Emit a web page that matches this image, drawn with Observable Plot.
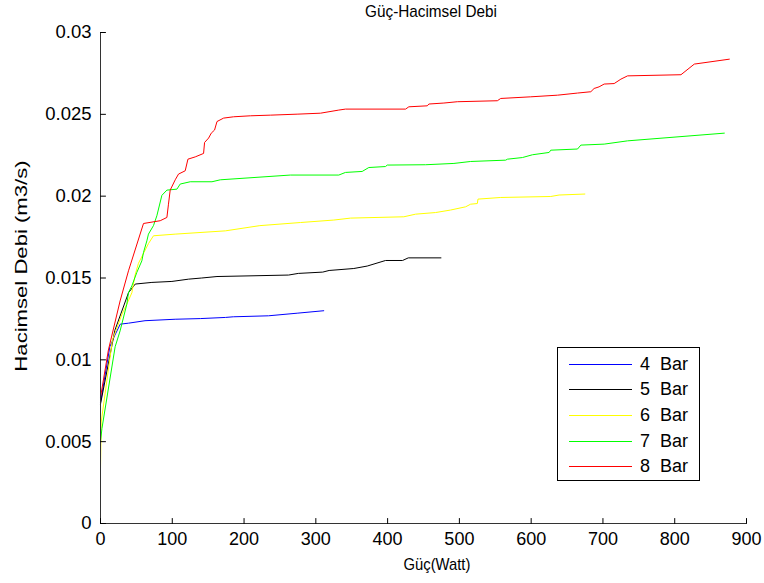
<!DOCTYPE html>
<html>
<head>
<meta charset="utf-8">
<script src="https://cdn.jsdelivr.net/npm/d3@7"></script>
<script src="https://cdn.jsdelivr.net/npm/@observablehq/plot@0.6"></script>
<style>
  html, body { margin: 0; padding: 0; background: #fff; }
  #wrap { position: relative; width: 764px; height: 583px; font-family: "Liberation Sans", Arial, sans-serif; color: #000; }
  #chart { position: absolute; left: 0; top: 0; }
  #title { position: absolute; left: 231px; top: 2px; width: 400px; text-align: center; font-size: 17px; line-height: 20px; transform: scaleX(0.9); }
  #xlabel { position: absolute; left: 337px; top: 555px; width: 200px; text-align: center; font-size: 17px; line-height: 20px; transform: scaleX(0.87); }
  #ylabel { position: absolute; left: -128px; top: 254px; width: 300px; height: 24px; line-height: 24px; text-align: center; font-size: 17px; transform: rotate(-90deg) scaleX(1.3); transform-origin: 150px 12px; white-space: nowrap; }
  #legend { position: absolute; left: 557px; top: 347px; width: 143px; height: 134px; border: 1.5px solid #000; background: #fff; box-sizing: border-box; }
  .row { position: absolute; left: 0; height: 20px; display: flex; align-items: center; }
  .sw { width: 63px; height: 0; border-top: 1.3px solid; margin-left: 11px; margin-right: 8px; }
  .lt { font-size: 18px; white-space: pre; }
</style>
</head>
<body>
<div id="wrap">
  <div id="chart"></div>
  <div id="title">Güç-Hacimsel Debi</div>
  <div id="xlabel">Güç(Watt)</div>
  <div id="ylabel">Hacimsel Debi (m3/s)</div>
  <div id="legend"></div>
</div>
<script>
const seriesNames = ["4  Bar", "5  Bar", "6  Bar", "7  Bar", "8  Bar"];
const seriesColors = ["#0000ff", "#000000", "#ffff00", "#00ff00", "#ff0000"];
const xTicks = [0, 100, 200, 300, 400, 500, 600, 700, 800, 900];
const yTicks = [0, 0.005, 0.01, 0.015, 0.02, 0.025, 0.03];

const bar4x = [0, 13, 20, 27.5, 39, 62, 104, 139, 174, 185, 234, 274, 311];
const bar4y = [0.0074, 0.0108, 0.0115, 0.01218, 0.01224, 0.01239, 0.01248, 0.01252, 0.01259, 0.01263, 0.01269, 0.01285, 0.0130];

const bar5x = [0, 20, 39, 48.4, 71.6, 99.5, 122.7, 141, 162.3, 262, 275.6, 309.6, 318.5, 352.9, 371.6, 397.1, 420.8, 428.8, 474.3];
const bar5y = [0.0073, 0.0118, 0.0141, 0.01463, 0.01473, 0.01479, 0.01493, 0.0150, 0.01509, 0.01518, 0.01528, 0.01536, 0.01546, 0.01558, 0.01573, 0.01607, 0.01607, 0.01623, 0.01623];

const bar6x = [0, 1, 16.6, 30, 36.7, 43.7, 48.3, 52.9, 66.8, 73.8, 104, 173.9, 222, 278.6, 325, 348.3, 422.6, 439, 466.9, 487.5, 508.7, 515.7, 525, 525.9, 557.6, 627.3, 638.9, 674.8];
const bar6y = [0.0033, 0.0062, 0.0112, 0.0128, 0.0134, 0.0141, 0.0152, 0.0159, 0.0171, 0.01758, 0.01768, 0.01788, 0.0182, 0.01839, 0.01854, 0.01866, 0.01874, 0.0189, 0.019, 0.01915, 0.01935, 0.01951, 0.01955, 0.01982, 0.01992, 0.01998, 0.02007, 0.02013];

const bar7x = [0, 2, 20.4, 27.3, 36.7, 39, 43.7, 50.6, 57.6, 59.9, 64.6, 66.8, 73.8, 78.5, 85.5, 92.5, 106.5, 111, 125, 155.3, 166.9, 264.5, 332, 341.3, 364.6, 373.8, 397.1, 399.5, 452.9, 492.4, 515.7, 564.5, 566.9, 587.9, 601.8, 625, 627.3, 664.6, 669.2, 701.7, 734.3, 869.1];
const bar7y = [0.0050, 0.0058, 0.0108, 0.01177, 0.0134, 0.01411, 0.01452, 0.01534, 0.01605, 0.01656, 0.01727, 0.01768, 0.0182, 0.0188, 0.02005, 0.02037, 0.02043, 0.02074, 0.02088, 0.02088, 0.021, 0.02129, 0.02129, 0.02145, 0.02151, 0.02175, 0.02181, 0.0219, 0.02192, 0.0220, 0.02212, 0.0222, 0.02226, 0.02236, 0.02253, 0.02267, 0.02281, 0.02288, 0.02312, 0.02318, 0.02338, 0.02385];

const bar8x = [0, 11, 27.3, 39, 59.9, 83.2, 92.5, 94.7, 97.1, 104.1, 108.7, 118, 121.8, 132, 143.6, 145, 150.6, 154.3, 158.9, 162.3, 171.5, 185.4, 208.7, 236.6, 273.9, 306.4, 332, 341.3, 425, 429.6, 455.3, 457.5, 478.4, 497.1, 552.9, 557.6, 599.4, 636.7, 664.6, 683.1, 687.7, 694.6, 701.7, 715.6, 725, 734.3, 808.7, 827.3, 876.1];
const bar8y = [0.0077, 0.0106, 0.0136, 0.01544, 0.01833, 0.0185, 0.0187, 0.01951, 0.02037, 0.021, 0.02135, 0.02155, 0.02226, 0.0224, 0.02261, 0.02328, 0.02355, 0.02385, 0.02404, 0.02456, 0.02477, 0.02485, 0.02491, 0.02495, 0.02501, 0.02507, 0.02526, 0.02532, 0.02532, 0.02546, 0.02552, 0.02563, 0.02569, 0.02577, 0.02583, 0.02597, 0.02607, 0.02617, 0.0263, 0.02638, 0.02658, 0.02668, 0.02685, 0.02688, 0.02715, 0.02735, 0.02742, 0.02807, 0.02837];

const allX = [bar4x, bar5x, bar6x, bar7x, bar8x];
const allY = [bar4y, bar5y, bar6y, bar7y, bar8y];
const rows = [];
allX.forEach((xs, i) => xs.forEach((x, j) => rows.push({series: seriesNames[i], x, y: allY[i][j]})));

const tickShape = { draw(ctx, l) { ctx.moveTo(0, 0); ctx.lineTo(0, -l); } };
const fmtY = d => String(+d.toFixed(3));

const chart = Plot.plot({
  width: 764, height: 583,
  marginTop: 32, marginLeft: 100, marginRight: 18, marginBottom: 60,
  style: { fontFamily: "Liberation Sans, Arial, sans-serif", background: "#fff", color: "#000" },
  x: { domain: [0, 900] },
  y: { domain: [0, 0.03] },
  color: { domain: seriesNames, range: seriesColors },
  marks: [
    Plot.line(rows, { x: "x", y: "y", z: "series", stroke: "series", strokeWidth: 1 }),
    Plot.ruleY([0], { stroke: "#333", strokeWidth: 1 }),
    Plot.ruleX([0], { stroke: "#333", strokeWidth: 1 }),
    Plot.vector(xTicks, { x: d => d, frameAnchor: "bottom", length: 5, rotate: 0, anchor: "start", shape: tickShape, stroke: "#000", strokeWidth: 1 }),
    Plot.vector(yTicks, { y: d => d, frameAnchor: "left", length: 5, rotate: 90, anchor: "start", shape: tickShape, stroke: "#000", strokeWidth: 1 }),
    Plot.axisX({ ticks: xTicks, tickSize: 0, tickPadding: 9, fontSize: 18, label: null, tickFormat: d => String(d) }),
    Plot.axisY({ ticks: yTicks, tickSize: 0, tickPadding: 9, fontSize: 18.5, label: null, tickFormat: fmtY })
  ]
});
document.getElementById("chart").appendChild(chart);

const legend = document.getElementById("legend");
seriesNames.forEach((name, i) => {
  const r = document.createElement("div");
  r.className = "row";
  r.style.top = (6 + i * 25.7) + "px";
  const sw = document.createElement("div");
  sw.className = "sw";
  sw.style.borderTopColor = seriesColors[i];
  const t = document.createElement("span");
  t.className = "lt";
  t.textContent = name;
  r.appendChild(sw); r.appendChild(t);
  legend.appendChild(r);
});
</script>
</body>
</html>
